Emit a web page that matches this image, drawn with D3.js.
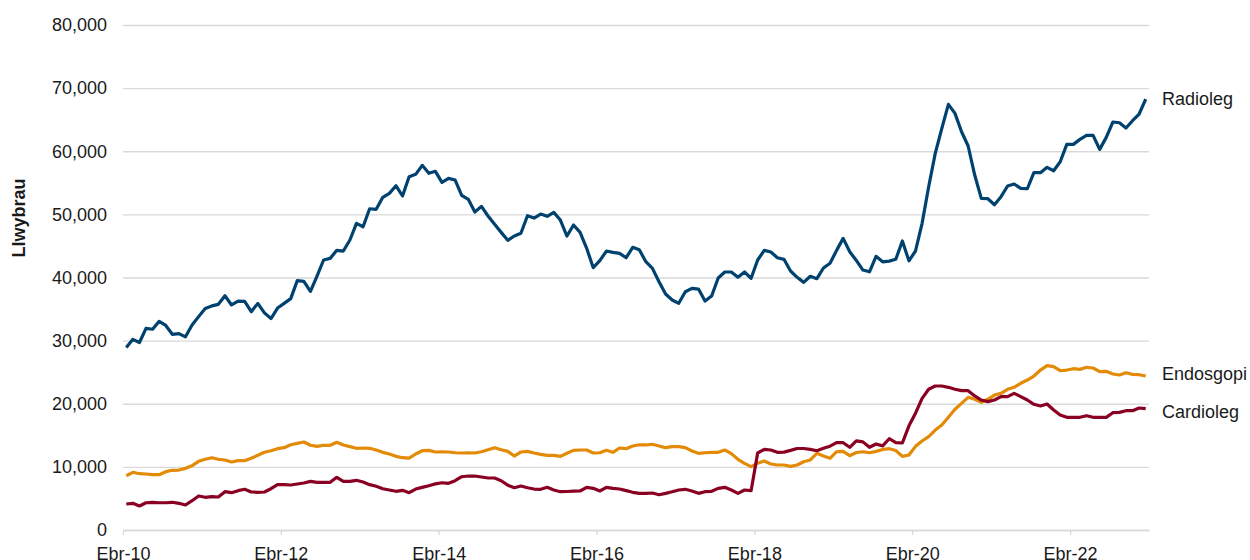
<!DOCTYPE html>
<html>
<head>
<meta charset="utf-8">
<script src="https://cdn.jsdelivr.net/npm/d3@7"></script>
<style>
  body { margin: 0; background: #fff; }
  svg { display: block; font-family: "Liberation Sans", Arial, sans-serif; }
</style>
</head>
<body>
<svg id="chart" width="1250" height="560"></svg>
<script>
// monthly values, Ebr-10 .. Maw-23 (one row = one year, Apr..Mar)
var radioleg = [
  28900, 30200, 29700, 31950, 31800, 33060, 32400, 31000, 31100, 30600, 32470, 33800,
  35100, 35500, 35750, 37100, 35650, 36270, 36220, 34580, 35900, 34400, 33500, 35160,
  35900, 36650, 39500, 39400, 37800, 40230, 42770, 43030, 44300, 44190, 45940, 48580,
  48040, 50890, 50800, 52700, 53330, 54540, 52910, 55970, 56340, 57770, 56500, 56820,
  55080, 55710, 55440, 53020, 52380, 50370, 51270, 49740, 48420, 47150, 45890, 46570,
  47000, 49790, 49420, 50050, 49690, 50320, 49100, 46570, 48310, 47150, 44620, 41550,
  42660, 44190, 43980, 43830, 43130, 44780, 44400, 42500, 41450, 39330, 37380, 36430,
  35910, 37750, 38280, 38170, 36270, 37070, 39920, 40870, 40870, 40030, 40870, 39870,
  42770, 44300, 44040, 43130, 42880, 41030, 40030, 39230, 40190, 39810, 41500, 42250,
  44300, 46200, 44080, 42700, 41180, 40900, 43350, 42480, 42600, 42880, 45780, 42640,
  44200, 48580, 54380, 59670, 63630, 67430, 66000, 63090, 60830, 56230, 52540, 52480,
  51530, 52800, 54490, 54810, 54120, 54060, 56600, 56600, 57450, 56910, 58340, 61090,
  61090, 61880, 62520, 62520, 60300, 62200, 64630, 64520, 63680, 64840, 65900, 68270
];
var endosgopi = [
  8600, 9140, 8920, 8870, 8760, 8760, 9240, 9460, 9500, 9770, 10190, 10880,
  11200, 11450, 11200, 11090, 10770, 10980, 10980, 11360, 11830, 12310, 12560, 12880,
  13040, 13510, 13730, 13940, 13420, 13260, 13420, 13420, 13890, 13460, 13200, 12940,
  12990, 12940, 12670, 12300, 12040, 11670, 11450, 11400, 12040, 12560, 12620, 12360,
  12400, 12360, 12240, 12200, 12240, 12200, 12400, 12720, 13040, 12720, 12460, 11720,
  12360, 12460, 12200, 11990, 11830, 11830, 11670, 12150, 12620, 12670, 12670, 12200,
  12240, 12620, 12310, 12990, 12880, 13310, 13500, 13470, 13580, 13310, 13040, 13200,
  13200, 13040, 12510, 12150, 12240, 12310, 12310, 12670, 12100, 11200, 10560, 10030,
  10560, 10930, 10450, 10300, 10300, 10090, 10300, 10820, 11090, 12150, 11720, 11360,
  12400, 12450, 11770, 12280, 12400, 12240, 12450, 12750, 12880, 12600, 11660, 11880,
  13250, 14100, 14780, 15840, 16630, 17850, 19120, 20070, 21020, 20700, 20230, 20700,
  21380, 21650, 22290, 22600, 23240, 23760, 24390, 25340, 26030, 25870, 25230, 25340,
  25550, 25450, 25770, 25660, 25080, 25140, 24710, 24550, 24920, 24660, 24600, 24390
];
var cardioleg = [
  4120, 4230, 3800, 4320, 4390, 4320, 4320, 4390, 4230, 3960, 4640, 5390,
  5180, 5280, 5230, 6070, 5910, 6230, 6450, 6020, 5970, 6020, 6540, 7180,
  7180, 7130, 7290, 7440, 7710, 7550, 7550, 7550, 8350, 7710, 7710, 7870,
  7600, 7180, 6920, 6540, 6340, 6130, 6290, 5910, 6490, 6760, 7020, 7300,
  7490, 7390, 7810, 8440, 8550, 8550, 8400, 8240, 8240, 7810, 7100, 6700,
  6970, 6700, 6490, 6450, 6760, 6340, 6070, 6100, 6150, 6180, 6760, 6600,
  6180, 6760, 6600, 6490, 6230, 5970, 5810, 5810, 5860, 5590, 5810, 6070,
  6340, 6450, 6180, 5810, 6070, 6130, 6600, 6760, 6340, 5810, 6340, 6230,
  12200, 12780, 12670, 12310, 12340, 12610, 12910, 12910, 12780, 12560, 12940, 13280,
  13830, 13830, 13100, 14120, 13960, 13100, 13620, 13330, 14460, 13830, 13780, 16500,
  18500, 20860, 22290, 22810, 22810, 22600, 22290, 22070, 22070, 21230, 20590, 20330,
  20590, 21120, 21120, 21650, 21120, 20590, 19910, 19640, 19960, 19010, 18220, 17850,
  17850, 17850, 18110, 17850, 17850, 17850, 18580, 18640, 18900, 18900, 19330, 19220
];

var seriesNames = ["Radioleg", "Endosgopi", "Cardioleg"];
var seriesColors = ["#00426f", "#e38a06", "#8a0022"];
var xTickMonths = [0, 24, 48, 72, 96, 120, 144];
var xTickLabels = ["Ebr-10", "Ebr-12", "Ebr-14", "Ebr-16", "Ebr-18", "Ebr-20", "Ebr-22"];
var yTicks = [0, 10000, 20000, 30000, 40000, 50000, 60000, 70000, 80000];
var yTitle = "Llwybrau";

(function () {
  var series = [radioleg, endosgopi, cardioleg];
  var svg = d3.select("#chart");

  var m = { left: 123, right: 1149, top: 25, bottom: 530 };

  var x = d3.scaleLinear().domain([0, 156]).range([m.left, m.right]);
  var y = d3.scaleLinear().domain([0, 80000]).range([m.bottom, m.top]);

  // gridlines + y labels
  var yAxis = svg.append("g")
    .attr("transform", "translate(" + m.left + ",0)")
    .call(d3.axisLeft(y).tickValues(yTicks).tickFormat(d3.format(","))
      .tickSize(-(m.right - m.left)).tickPadding(16));
  yAxis.select(".domain").remove();
  yAxis.selectAll("line").attr("stroke", "#d9d9d9").attr("stroke-width", 1.3);
  yAxis.selectAll("text").attr("fill", "#1a1a1a").attr("font-size", 18)
    .attr("font-family", "Liberation Sans, Arial, sans-serif");

  // x axis
  var xAxis = svg.append("g")
    .attr("transform", "translate(0," + m.bottom + ")")
    .call(d3.axisBottom(x).tickValues(xTickMonths)
      .tickFormat(function (d, i) { return xTickLabels[i]; })
      .tickSize(5).tickPadding(12).tickSizeOuter(0));
  xAxis.select(".domain").attr("stroke", "#d9d9d9").attr("stroke-width", 1.3);
  xAxis.selectAll("line").attr("stroke", "#d9d9d9").attr("stroke-width", 1.3);
  xAxis.selectAll("text").attr("fill", "#1a1a1a").attr("font-size", 18)
    .attr("font-family", "Liberation Sans, Arial, sans-serif");

  // y title
  svg.append("text")
    .attr("transform", "translate(25,218) rotate(-90)")
    .attr("text-anchor", "middle")
    .attr("font-size", 18)
    .attr("font-weight", "bold")
    .attr("fill", "#1a1a1a")
    .text(yTitle);

  var line = d3.line()
    .x(function (d, i) { return x(i + 0.5); })
    .y(function (d) { return y(d); });

  svg.append("g").selectAll("path")
    .data(series)
    .join("path")
    .attr("d", line)
    .attr("fill", "none")
    .attr("stroke", function (d, i) { return seriesColors[i]; })
    .attr("stroke-width", 3.2)
    .attr("stroke-linejoin", "round");

  // end labels, spread apart so they don't collide
  var labels = series.map(function (s, i) {
    return { name: seriesNames[i], y: y(s[s.length - 1]) };
  }).sort(function (a, b) { return a.y - b.y; });
  var gap = 38;
  for (var k = 1; k < labels.length; k++) {
    var diff = labels[k].y - labels[k - 1].y;
    if (diff < gap) {
      var shift = (gap - diff) / 2;
      labels[k - 1].y -= shift;
      labels[k].y += shift;
    }
  }

  svg.append("g").selectAll("text")
    .data(labels)
    .join("text")
    .attr("x", 1162)
    .attr("y", function (d) { return d.y; })
    .attr("dy", "0.35em")
    .attr("font-size", 18)
    .attr("fill", "#1a1a1a")
    .text(function (d) { return d.name; });
})();
</script>
</body>
</html>
